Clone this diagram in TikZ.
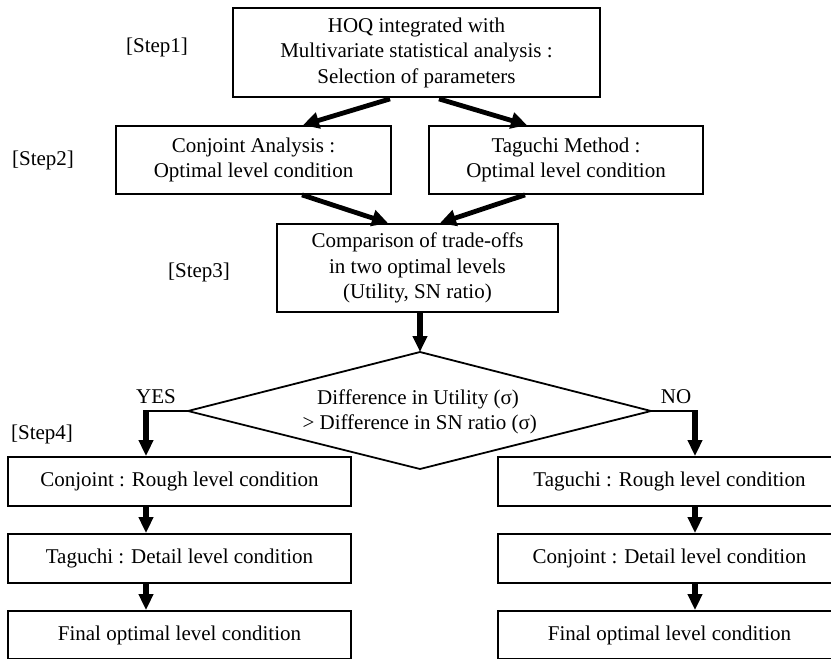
\documentclass[tikz,border=0pt]{standalone}
\usepackage{fontspec}
\setmainfont{Liberation Serif}
\usetikzlibrary{arrows.meta,calc}
\begin{document}
\begin{tikzpicture}[x=1pt,y=-1pt,
  box/.style={draw,line width=1.8pt,rectangle,align=center,inner sep=0pt,font=\fontsize{21}{25.5}\selectfont},
  lbl/.style={inner sep=0pt,font=\fontsize{21}{25.5}\selectfont},
  thick arrow/.style={line width=4.8pt,-{Triangle[length=16pt,width=16pt]}},
  flow/.style={line width=2.6pt},
  vdown/.style={line width=5.5pt,-{Triangle[length=16pt,width=14pt]}}]
\useasboundingbox (0,0) rectangle (831,659);
\clip (0,0) rectangle (831,659);
% boxes
\node[box,minimum width=367pt,minimum height=89pt] (top) at (416.5,52.5) {HOQ integrated with\\Multivariate statistical analysis :\\Selection of parameters};
\node[box,minimum width=275pt,minimum height=68pt] (c2l) at (253.5,160) {Conjoint Analysis :\\Optimal level condition};
\node[box,minimum width=274pt,minimum height=68pt] (c2r) at (566,160) {Taguchi Method :\\Optimal level condition};
\node[box,minimum width=281pt,minimum height=88pt] (s3) at (417.5,268) {Comparison of trade-offs\\in two optimal levels\\(Utility, SN ratio)};
% diamond
\coordinate (dt) at (420,352);
\coordinate (dr) at (651,411);
\coordinate (db) at (420,469);
\coordinate (dl) at (188,411);
\draw[line width=1.8pt,line join=miter] (dt) -- (dr) -- (db) -- (dl) -- cycle;
\node[lbl,align=center] (dtext) at (418,412) {Difference in Utility (σ)\\ \,> Difference in SN ratio (σ)};
% left column
\node[box,minimum width=343pt,minimum height=49pt] (l1) at (179.5,481.5) {Conjoint : Rough level condition};
\node[box,minimum width=343pt,minimum height=49pt] (l2) at (179.5,558.5) {Taguchi : Detail level condition};
\node[box,minimum width=343pt,minimum height=48pt] (l3) at (179.5,635) {Final optimal level condition};
% right column
\node[box,minimum width=343pt,minimum height=49pt] (r1) at (669.5,481.5) {Taguchi : Rough level condition};
\node[box,minimum width=343pt,minimum height=49pt] (r2) at (669.5,558.5) {Conjoint : Detail level condition};
\node[box,minimum width=343pt,minimum height=48pt] (r3) at (669.5,635) {Final optimal level condition};
% labels
\node[lbl] (st1) at (157,47) {[Step1]};
\node[lbl] (st2) at (43,160) {[Step2]};
\node[lbl] (st3) at (199,272) {[Step3]};
\node[lbl] (st4) at (42,434) {[Step4]};
\node[lbl] (yes) at (156,397) {YES};
\node[lbl] (no) at (676,397) {NO};
% arrows
\draw[thick arrow] ([xshift=-26.5pt,yshift=-1pt]top.south) -- ([xshift=49.5pt]c2l.north);
\draw[thick arrow] ([xshift=22.5pt,yshift=-1pt]top.south) -- ([xshift=-39pt]c2r.north);
\draw[thick arrow] ([xshift=48.5pt]c2l.south) -- ([xshift=-29.5pt]s3.north);
\draw[thick arrow] ([xshift=-41pt]c2r.south) -- ([xshift=22.5pt]s3.north);
\draw[vdown] ([xshift=2.5pt]s3.south) -- (dt);
% yes / no branches
\coordinate (yc) at (146,411);
\coordinate (nc) at (695,411);
\draw[flow] (dl) -- ([xshift=-2.7pt]yc);
\draw[vdown] ([yshift=-1.3pt]yc) -- (l1.north -| yc);
\draw[flow] (dr) -- ([xshift=2.7pt]nc);
\draw[vdown] ([yshift=-1.3pt]nc) -- (r1.north -| nc);
% chains
\draw[vdown] (l1.south -| yc) -- (l2.north -| yc);
\draw[vdown] (l2.south -| yc) -- (l3.north -| yc);
\draw[vdown] (r1.south -| nc) -- (r2.north -| nc);
\draw[vdown] (r2.south -| nc) -- (r3.north -| nc);
\end{tikzpicture}
\end{document}
